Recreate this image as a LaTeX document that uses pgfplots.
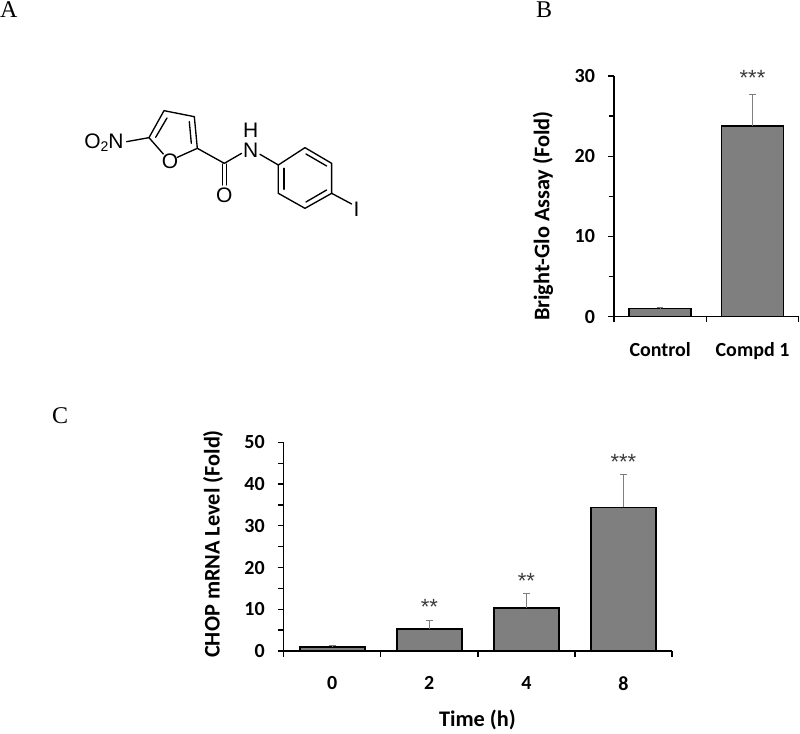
\documentclass[border=0pt]{standalone}
\usepackage{fontspec}
\setmainfont{Carlito}
\newfontfamily\seriffont{Liberation Serif}
\newfontfamily\arialfont{Liberation Sans}
\usepackage{pgfplots}
\pgfplotsset{compat=1.18}
\definecolor{bargray}{RGB}{127,127,127}
\definecolor{errgray}{RGB}{125,125,125}
\definecolor{stargray}{RGB}{60,60,60}

\pgfplotsset{
  panel/.style={
    scale only axis, clip=false,
    axis lines=left, axis line style={-, line width=1.5pt, black},
    ymin=0,
    tick align=outside, tick pos=left,
    tick style={black, line width=1.3pt},
    major tick length=6pt, minor tick length=5.5pt,
    minor y tick num=1,
    /pgf/number format/assume math mode=true,
    tick label style={font=\fontsize{20}{22}\selectfont\bfseries},
    yticklabel style={xshift=-9.5pt},
    major x tick style={draw=none},
    x tick label style={yshift=-16pt},
    ybar, bar shift=0pt,
  },
  bars/.style={
    fill=bargray, draw=black, line width=1.6pt,
    error bars/.cd, y dir=plus, y explicit,
    error bar style={errgray, line width=1.2pt},
    error mark options={errgray, rotate=90, mark size=3.3pt, line width=1.2pt},
  },
}
\newcommand{\axlabel}{\fontsize{22.3}{25}\selectfont\bfseries}
\newcommand{\stars}[1]{{\fontsize{22}{22}\selectfont\arialfont\color{stargray}#1}}

\begin{document}
\begin{tikzpicture}[x=1pt,y=1pt]
\path (0,0) rectangle (800,728);

% panel letters
\node[anchor=base west, inner sep=0pt, font=\fontsize{24}{24}\selectfont\seriffont] at (0,710) {A};
\node[anchor=base west, inner sep=0pt, font=\fontsize{24}{24}\selectfont\seriffont] at (536,710) {B};
\node[anchor=base west, inner sep=0pt, font=\fontsize{24}{24}\selectfont\seriffont] at (52,304.5) {C};

% structure of compound 1, coordinates as in the 3x crop
\begin{scope}[shift={(60,628)}, x=0.3333pt, y=-0.3333pt, line width=1.35pt, line cap=round, line join=round]
  \draw (200,125) -- (267,113) -- (312,32) -- (403,50) -- (412,145) -- (352,172);
  \draw (267,113) -- (310,162);
  \draw (287,112) -- (321,54);
  \draw (388,65) -- (394,130);
  \draw (412,145) -- (493,190) -- (545,160);
  \draw (487,192) -- (487,255);
  \draw (500,192) -- (500,255);
  \draw (600,163) -- (655,195);
  \draw (655,195) -- (735,143) -- (815,190) -- (815,280) -- (735,325) -- (655,280) -- cycle;
  \draw (738,162) -- (800,198);
  \draw (672,205) -- (672,268);
  \draw (738,306) -- (800,270);
  \draw (815,280) -- (875,312);
  \begin{scope}[every node/.style={inner sep=0pt, font=\fontsize{21}{21}\selectfont\arialfont}]
    \node at (132,127) {O\raisebox{-3pt}{\fontsize{14}{14}\selectfont 2}N};
    \node at (330,185) {O};
    \node at (493,285) {O};
    \node at (572,150) {N};
    \node at (572,90) {H};
    \node at (890,328) {I};
  \end{scope}
\end{scope}

% panel B
\begin{axis}[panel,
  at={(614pt,411.3pt)}, anchor=south west,
  width=184.7pt, height=240.7pt,
  xmin=-0.5, xmax=1.5, ymax=30,
  bar width=62pt,
  xtick={0,1}, xticklabels={Control, Compd 1},
  minor xtick={-0.5,0.5,1.5},
  ytick={0,10,20,30},
  ylabel={Bright-Glo Assay (Fold)},
  every axis y label/.style={at={(axis description cs:-0.384,0.418)}, rotate=90, anchor=center, font=\axlabel},
]
\addplot[bars] coordinates {(0,1.0) +- (0,0.1)  (1,23.8) +- (0,3.9)};
\node[inner sep=0pt] at (axis cs:1,29.8) {\stars{***}};
\end{axis}

% panel C
\begin{axis}[panel,
  at={(283.7pt,77pt)}, anchor=south west,
  width=388.3pt, height=208.7pt,
  xmin=-0.5, xmax=3.5, ymax=50,
  bar width=65pt,
  xtick={0,1,2,3}, xticklabels={0,2,4,8},
  minor xtick={-0.5,0.5,1.5,2.5,3.5},
  ytick={0,10,20,30,40,50},
  xlabel={Time (h)}, ylabel={CHOP mRNA Level (Fold)},
  every axis x label/.style={at={(axis description cs:0.499,-0.33)}, anchor=center, font=\axlabel},
  every axis y label/.style={at={(axis description cs:-0.182,0.513)}, rotate=90, anchor=center, font=\axlabel},
]
\addplot[bars] coordinates {(0,1.0) +- (0,0.35)  (1,5.2) +- (0,2.2)  (2,10.3) +- (0,3.5)  (3,34.4) +- (0,7.8)};
\node[inner sep=0pt] at (axis cs:1,10.5) {\stars{**}};
\node[inner sep=0pt] at (axis cs:2,16.7) {\stars{**}};
\node[inner sep=0pt] at (axis cs:3,45.4) {\stars{***}};
\end{axis}
\end{tikzpicture}
\end{document}
